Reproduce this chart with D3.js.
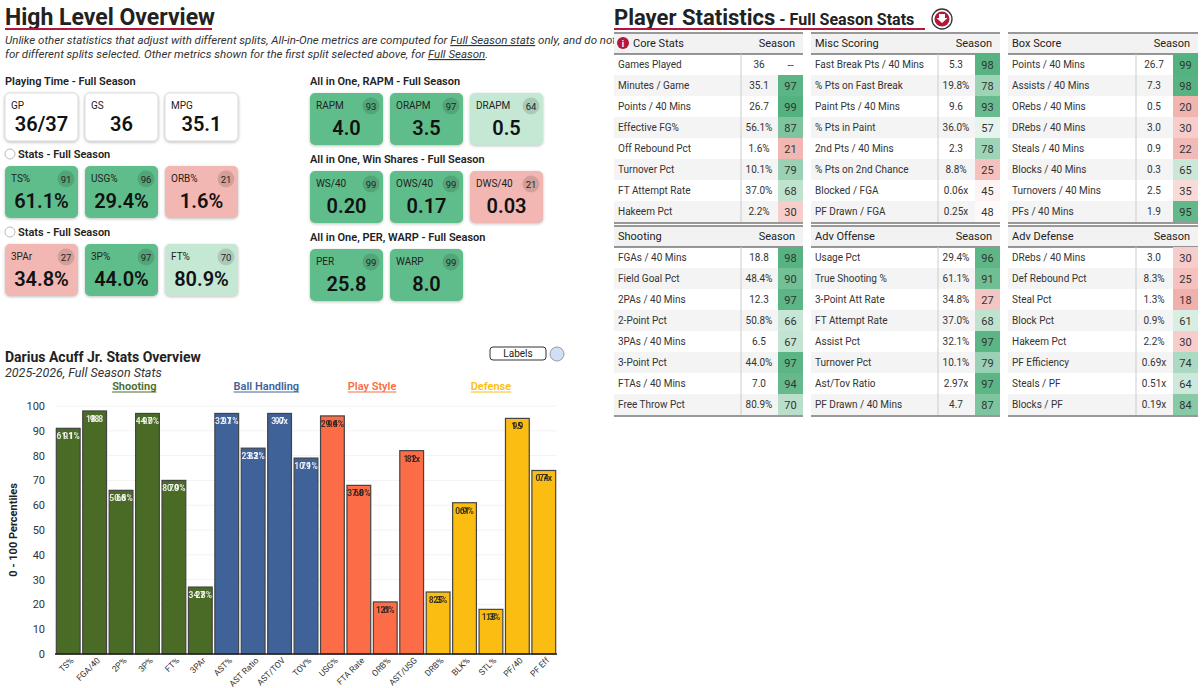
<!DOCTYPE html>
<html><head><meta charset="utf-8">
<script src="https://cdn.jsdelivr.net/npm/d3@7"></script>
<style>body{margin:0;background:#fff;font-family:Roboto,"Liberation Sans",sans-serif}</style>
</head><body><svg id="c" width="1201" height="688"></svg>
<script>
// ---------- DATA ----------
const barCats = ["TS%","FGA/40","2P%","3P%","FT%","3PAr","AST%","AST Ratio","AST/TOV","TOV%","USG%","FTA Rate","ORB%","AST/USG","DRB%","BLK%","STL%","PF/40","PF Eff"];
const barPct = [91,98,66,97,70,27,97,83,97,79,96,68,21,82,25,61,18,95,74];
const barVal = ["61.1%","18.8","50.8%","44.0%","80.9%","34.8%","32.1%","23.2%","3.0x","10.1%","29.4%","37.0%","1.6%","1.1x","8.3%","0.9%","1.3%","1.9","0.7x"];
const barGroup = ["Shooting","Shooting","Shooting","Shooting","Shooting","Shooting","Ball Handling","Ball Handling","Ball Handling","Ball Handling","Play Style","Play Style","Play Style","Play Style","Defense","Defense","Defense","Defense","Defense"];
const groups = ["Shooting","Ball Handling","Play Style","Defense"];
const groupColors = ["#4a6b26","#3f6299","#fb6c47","#fbbd12"];
const yTicks = [0,10,20,30,40,50,60,70,80,90,100];

const ptLabels = ["GP","GS","MPG"], ptValues = ["36/37","36","35.1"];
const s1Labels = ["TS%","USG%","ORB%"], s1Values = ["61.1%","29.4%","1.6%"], s1Pct = [91,96,21];
const s2Labels = ["3PAr","3P%","FT%"], s2Values = ["34.8%","44.0%","80.9%"], s2Pct = [27,97,70];
const rapmLabels = ["RAPM","ORAPM","DRAPM"], rapmValues = ["4.0","3.5","0.5"], rapmPct = [93,97,64];
const wsLabels = ["WS/40","OWS/40","DWS/40"], wsValues = ["0.20","0.17","0.03"], wsPct = [99,99,21];
const perLabels = ["PER","WARP"], perValues = ["25.8","8.0"], perPct = [99,99];

const coreRows = ["Games Played","Minutes / Game","Points / 40 Mins","Effective FG%","Off Rebound Pct","Turnover Pct","FT Attempt Rate","Hakeem Pct"];
const coreVals = ["36","35.1","26.7","56.1%","1.6%","10.1%","37.0%","2.2%"];
const corePct = [null,97,99,87,21,79,68,30];
const miscRows = ["Fast Break Pts / 40 Mins","% Pts on Fast Break","Paint Pts / 40 Mins","% Pts in Paint","2nd Pts / 40 Mins","% Pts on 2nd Chance","Blocked / FGA","PF Drawn / FGA"];
const miscVals = ["5.3","19.8%","9.6","36.0%","2.3","8.8%","0.06x","0.25x"];
const miscPct = [98,78,93,57,78,25,45,48];
const boxRows = ["Points / 40 Mins","Assists / 40 Mins","ORebs / 40 Mins","DRebs / 40 Mins","Steals / 40 Mins","Blocks / 40 Mins","Turnovers / 40 Mins","PFs / 40 Mins"];
const boxVals = ["26.7","7.3","0.5","3.0","0.9","0.3","2.5","1.9"];
const boxPct = [99,98,20,30,22,65,35,95];
const shootRows = ["FGAs / 40 Mins","Field Goal Pct","2PAs / 40 Mins","2-Point Pct","3PAs / 40 Mins","3-Point Pct","FTAs / 40 Mins","Free Throw Pct"];
const shootVals = ["18.8","48.4%","12.3","50.8%","6.5","44.0%","7.0","80.9%"];
const shootPct = [98,90,97,66,67,97,94,70];
const advORows = ["Usage Pct","True Shooting %","3-Point Att Rate","FT Attempt Rate","Assist Pct","Turnover Pct","Ast/Tov Ratio","PF Drawn / 40 Mins"];
const advOVals = ["29.4%","61.1%","34.8%","37.0%","32.1%","10.1%","2.97x","4.7"];
const advOPct = [96,91,27,68,97,79,97,87];
const advDRows = ["DRebs / 40 Mins","Def Rebound Pct","Steal Pct","Block Pct","Hakeem Pct","PF Efficiency","Steals / PF","Blocks / PF"];
const advDVals = ["3.0","8.3%","1.3%","0.9%","2.2%","0.69x","0.51x","0.19x"];
const advDPct = [30,25,18,61,30,74,64,84];

// ---------- DRAW ----------
const svg = d3.select("#c");
const red = "#b5173a";
const pctColor = d3.scaleLinear().domain([0,50,100]).range(["#e8837c","#ffffff","#50b07d"]).clamp(true);

// Left header
svg.append("text").attr("x",5).attr("y",25).attr("font-size",23).attr("font-weight",700).attr("fill","#222").text("High Level Overview");
svg.append("line").attr("x1",5).attr("x2",212).attr("y1",29).attr("y2",29).attr("stroke",red).attr("stroke-width",2);
const sub = svg.append("g").attr("font-size",11.5).attr("font-style","italic").attr("fill","#333");
const l1 = sub.append("text").attr("x",5).attr("y",44);
l1.append("tspan").text("Unlike other statistics that adjust with different splits, All-in-One metrics are computed for ");
l1.append("tspan").attr("text-decoration","underline").attr("style","text-decoration-color:"+red).text("Full Season stats");
l1.append("tspan").text(" only, and do not update");
const l2 = sub.append("text").attr("x",5).attr("y",58);
l2.append("tspan").text("for different splits selected. Other metrics shown for the first split selected above, for ");
l2.append("tspan").attr("text-decoration","underline").attr("style","text-decoration-color:"+red).text("Full Season");
l2.append("tspan").text(".");

function cardRow(x0,y0,title,labels,values,pcts,radio){
  const g = svg.append("g");
  if(radio){g.append("circle").attr("cx",x0+5).attr("cy",y0-4).attr("r",5).attr("fill","#fff").attr("stroke","#bbb");}
  g.append("text").attr("x",x0+(radio?13:0)).attr("y",y0).attr("font-size",11).attr("font-weight",600).attr("fill","#222").text(title);
  labels.forEach((l,i)=>{
    const x = x0 + i*80, y = y0+8, w=73, h=pcts?52:48;
    const p = pcts?pcts[i]:null;
    const fill = p==null?"#fff":(p>=80?"#5fbd8b":p>=50?"#c4e8d3":"#f2b7b2");
    g.append("rect").attr("x",x).attr("y",y).attr("width",w).attr("height",h).attr("rx",5).attr("fill",fill).attr("stroke",p==null?"#ddd":"none").style("filter","drop-shadow(0 1px 1.5px rgba(0,0,0,0.25))");
    g.append("text").attr("x",x+6).attr("y",y+16).attr("font-size",10).attr("fill","#222").text(l);
    if(p!=null){
      g.append("circle").attr("cx",x+w-12).attr("cy",y+13).attr("r",8.5).attr("fill","rgba(0,0,0,0.13)");
      g.append("text").attr("x",x+w-12).attr("y",y+16.5).attr("text-anchor","middle").attr("font-size",9.5).attr("fill","#222").text(p);
    }
    g.append("text").attr("x",x+w/2).attr("y",y+h-10).attr("text-anchor","middle").attr("font-size",20).attr("font-weight",600).attr("fill","#111").text(values[i]);
  });
}
cardRow(5,85,"Playing Time - Full Season",ptLabels,ptValues,null,false);
cardRow(5,158,"Stats - Full Season",s1Labels,s1Values,s1Pct,true);
cardRow(5,236,"Stats - Full Season",s2Labels,s2Values,s2Pct,true);
cardRow(310,85,"All in One, RAPM - Full Season",rapmLabels,rapmValues,rapmPct,false);
cardRow(310,163,"All in One, Win Shares - Full Season",wsLabels,wsValues,wsPct,false);
cardRow(310,241,"All in One, PER, WARP - Full Season",perLabels,perValues,perPct,false);

// Bar chart
svg.append("text").attr("x",5).attr("y",362).attr("font-size",14).attr("font-weight",700).attr("fill","#222").text("Darius Acuff Jr. Stats Overview");
svg.append("text").attr("x",5).attr("y",377).attr("font-size",12.5).attr("font-style","italic").attr("fill","#333").text("2025-2026, Full Season Stats");
svg.append("rect").attr("x",490).attr("y",347).attr("width",56).attr("height",13).attr("rx",3).attr("fill","#fff").attr("stroke","#333");
svg.append("text").attr("x",518).attr("y",357).attr("text-anchor","middle").attr("font-size",10).attr("fill","#222").text("Labels");
svg.append("circle").attr("cx",557).attr("cy",354).attr("r",7).attr("fill","#cfe0f5").attr("stroke","#99a");

const x = d3.scaleBand().domain(barCats).range([55,557]).paddingInner(0.1).paddingOuter(0.05);
const y = d3.scaleLinear().domain([0,100]).range([654,406]);
svg.append("g").selectAll("line").data(yTicks.slice(1)).join("line").attr("x1",55).attr("x2",557).attr("y1",d=>y(d)).attr("y2",d=>y(d)).attr("stroke","#f2f2f2");
const gy = svg.append("g").attr("transform","translate(55,0)").call(d3.axisLeft(y).tickValues(yTicks).tickSize(0).tickPadding(10));
gy.select(".domain").remove();
gy.selectAll("text").attr("font-size",11).attr("fill","#333").attr("font-family","Roboto,sans-serif");
svg.append("text").attr("transform","translate(17,530) rotate(-90)").attr("text-anchor","middle").attr("font-size",11).attr("font-weight",700).attr("fill","#222").text("0 - 100 Percentiles");

groups.forEach((g,i)=>{
  const idx = barGroup.map((d,j)=>d===g?j:-1).filter(j=>j>=0);
  const cx = (x(barCats[idx[0]]) + x(barCats[idx[idx.length-1]]) + x.bandwidth())/2;
  const t = svg.append("text").attr("x",cx).attr("y",390).attr("text-anchor","middle").attr("font-size",11).attr("font-weight",600).attr("fill",groupColors[i]).text(g);
  const w = t.node().getComputedTextLength();
  svg.append("line").attr("x1",cx-w/2).attr("x2",cx+w/2).attr("y1",392).attr("y2",392).attr("stroke",groupColors[i]);
});
const col = d=>groupColors[groups.indexOf(d)];
svg.append("g").selectAll("rect").data(barCats).join("rect")
  .attr("x",d=>x(d)).attr("width",x.bandwidth())
  .attr("y",(d,i)=>y(barPct[i])).attr("height",(d,i)=>y(0)-y(barPct[i]))
  .attr("fill",(d,i)=>col(barGroup[i])).attr("stroke","#444").attr("stroke-width",1.2);
svg.append("line").attr("x1",55).attr("x2",557).attr("y1",654).attr("y2",654).attr("stroke","#222").attr("stroke-width",1.5);
barCats.forEach((d,i)=>{
  const tc = (barGroup[i]==="Shooting"||barGroup[i]==="Ball Handling")?"#fff":"#222";
  [barVal[i],String(barPct[i])].forEach(s=>{
    svg.append("text").attr("x",x(d)+x.bandwidth()/2).attr("y",y(barPct[i])+11).attr("text-anchor","middle").attr("font-size",8.5).attr("font-weight",700).attr("fill",tc).attr("opacity",0.85).text(s);
  });
  svg.append("text").attr("transform",`translate(${x(d)+x.bandwidth()/2+6},${661}) rotate(-45)`).attr("text-anchor","end").attr("font-size",8.5).attr("fill","#333").text(d);
});

// Right header
svg.append("text").attr("x",614).attr("y",25).attr("font-size",22).attr("font-weight",700).attr("fill","#222")
  .call(t=>{t.append("tspan").text("Player Statistics");t.append("tspan").attr("font-size",16).text(" - Full Season Stats");});
svg.append("line").attr("x1",614).attr("x2",925).attr("y1",29).attr("y2",29).attr("stroke",red).attr("stroke-width",2);
svg.append("circle").attr("cx",942).attr("cy",19).attr("r",10).attr("fill","#fff").attr("stroke","#333").attr("stroke-width",1.3);
svg.append("circle").attr("cx",942).attr("cy",19).attr("r",7.5).attr("fill",red);
svg.append("path").attr("d","M939,14h6v4h2.5l-5.5,5l-5.5-5h2.5z").attr("fill","#fff");

function table(x0,w,y0,title,rows,vals,pcts,info){
  const g = svg.append("g").attr("font-size",10).attr("fill","#333");
  const pc0 = x0+w-25, sep = pc0-37, vc = sep+18;
  g.append("line").attr("x1",x0).attr("x2",x0+w).attr("y1",y0).attr("y2",y0).attr("stroke","#333").attr("stroke-width",1.2);
  g.append("rect").attr("x",x0).attr("y",y0+1).attr("width",w).attr("height",20).attr("fill","#f2f2f2");
  if(info){g.append("circle").attr("cx",x0+9).attr("cy",y0+10).attr("r",6).attr("fill",red);
    g.append("text").attr("x",x0+9).attr("y",y0+14).attr("text-anchor","middle").attr("fill","#fff").attr("font-size",9).attr("font-weight",700).text("i");}
  g.append("text").attr("x",x0+(info?19:4)).attr("y",y0+14).attr("font-size",11).attr("fill","#222").text(title);
  g.append("text").attr("x",x0+w-8).attr("y",y0+14).attr("text-anchor","end").attr("font-size",11).attr("fill","#222").text("Season");
  g.append("line").attr("x1",x0).attr("x2",x0+w).attr("y1",y0+21).attr("y2",y0+21).attr("stroke","#333");
  rows.forEach((r,i)=>{
    const ry = y0+21+i*21;
    if(i%2===1) g.append("rect").attr("x",x0).attr("y",ry).attr("width",w).attr("height",21).attr("fill","#f4f4f4");
    const p = pcts[i];
    if(p!=null) g.append("rect").attr("x",pc0).attr("y",ry).attr("width",25).attr("height",21).attr("fill",pctColor(p));
    g.append("text").attr("x",x0+4).attr("y",ry+14).text(r);
    g.append("text").attr("x",vc).attr("y",ry+14).attr("text-anchor","middle").text(vals[i]);
    g.append("text").attr("x",pc0+12.5).attr("y",ry+14.5).attr("text-anchor","middle").attr("font-size",11).text(p==null?"--":p);
  });
  g.append("line").attr("x1",sep).attr("x2",sep).attr("y1",y0+21).attr("y2",y0+21+rows.length*21).attr("stroke","#ccc");
  g.append("line").attr("x1",x0).attr("x2",x0+w).attr("y1",y0+21+rows.length*21+1).attr("y2",y0+21+rows.length*21+1).attr("stroke","#333").attr("stroke-width",1.2);
}
table(614,189,33,"Core Stats",coreRows,coreVals,corePct,true);
table(811,189,33,"Misc Scoring",miscRows,miscVals,miscPct,false);
table(1008,190,33,"Box Score",boxRows,boxVals,boxPct,false);
table(614,189,226,"Shooting",shootRows,shootVals,shootPct,false);
table(811,189,226,"Adv Offense",advORows,advOVals,advOPct,false);
table(1008,190,226,"Adv Defense",advDRows,advDVals,advDPct,false);
</script></body></html>
